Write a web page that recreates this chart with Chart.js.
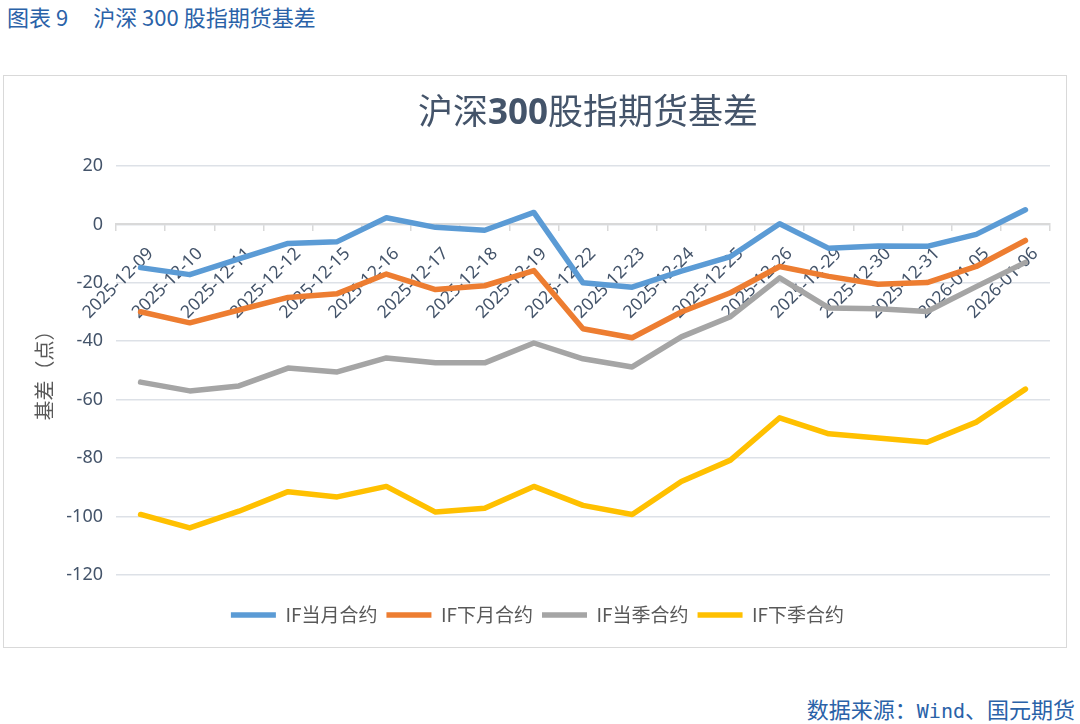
<!DOCTYPE html>
<html>
<head>
<meta charset="utf-8">
<script src="https://cdn.jsdelivr.net/npm/chart.js@4.4.1/dist/chart.umd.min.js"></script>
<style>
  body { margin: 0; background: #fff; width: 1080px; height: 724px; position: relative; overflow: hidden; }
  #header { position: absolute; left: 7px; top: 2px; font: 22px/28px "Noto Sans CJK SC", sans-serif; color: #2a62a8; white-space: nowrap; }
  #footer { position: absolute; right: 5px; top: 694px; font: 22px/28px "Noto Sans CJK SC", sans-serif; color: #2a62a8; white-space: nowrap; }
  #footer .mono { font-family: "DejaVu Sans Mono", monospace; font-size: 20px; }
  #box { position: absolute; left: 3px; top: 75px; width: 1064px; height: 573px; outline: 1.5px solid #d9d9d9; outline-offset: -1.5px; }
  #title { position: absolute; left: 0; top: 89px; width: 1176px; text-align: center; font: 35px/40px "Noto Sans CJK SC", sans-serif; color: #44546a; white-space: nowrap; }
  #title b { font-family: "Noto Sans", sans-serif; font-weight: 700; }
</style>
</head>
<body>
<div id="header"><span>图表 9</span><span style="margin-left:25px">沪深 300 股指期货基差</span></div>
<div id="box"><canvas id="basisChart"></canvas></div>
<div id="title">沪深<b>300</b>股指期货基差</div>
<div id="footer">数据来源：<span class="mono">Wind</span>、国元期货</div>

<script>
// --- Data ---
const dates = [
  "2025-12-09", "2025-12-10", "2025-12-11", "2025-12-12", "2025-12-15",
  "2025-12-16", "2025-12-17", "2025-12-18", "2025-12-19", "2025-12-22",
  "2025-12-23", "2025-12-24", "2025-12-25", "2025-12-26", "2025-12-29",
  "2025-12-30", "2025-12-31", "2026-01-05", "2026-01-06"
];
const ifCurrentMonth = [-14.8, -17.2, -11.8, -6.5, -5.9, 2.3, -1.0, -2.0, 4.1, -20.0, -21.5, -16.0, -11.0, 0.2, -8.2, -7.4, -7.5, -3.4, 5.0];
const ifNextMonth = [-29.9, -33.7, -29.3, -25.0, -23.7, -17.0, -22.3, -21.0, -15.8, -35.7, -38.8, -30.0, -23.4, -14.4, -17.8, -20.5, -19.9, -14.4, -5.5];
const ifCurrentQuarter = [-54.0, -57.0, -55.3, -49.2, -50.5, -45.7, -47.4, -47.4, -40.6, -46.0, -48.8, -38.5, -31.6, -18.3, -28.6, -28.9, -29.8, -21.3, -13.0];
const ifNextQuarter = [-99.3, -103.9, -98.2, -91.5, -93.3, -89.7, -98.5, -97.2, -89.7, -96.2, -99.3, -88.0, -80.7, -66.2, -71.7, -73.1, -74.6, -67.7, -56.4];

const seriesNames = ["IF当月合约", "IF下月合约", "IF当季合约", "IF下季合约"];
const seriesColors = ["#5b9bd5", "#ed7d31", "#a5a5a5", "#ffc000"];
const yMin = -120, yMax = 20, yStep = 20;

// --- Chart.js setup ---
const ctx = document.getElementById("basisChart").getContext("2d");

function makeDataset(i, values) {
  return {
    label: seriesNames[i],
    data: values,
    borderColor: seriesColors[i],
    backgroundColor: seriesColors[i],
    borderWidth: 5.5,
    borderCapStyle: "round",
    borderJoinStyle: "round",
    pointRadius: 0,
    pointHoverRadius: 0,
    tension: 0,
    fill: false
  };
}

const chart = new Chart(ctx, {
  type: "line",
  data: {
    labels: dates,
    datasets: [
      makeDataset(0, ifCurrentMonth),
      makeDataset(1, ifNextMonth),
      makeDataset(2, ifCurrentQuarter),
      makeDataset(3, ifNextQuarter)
    ]
  },
  options: {
    responsive: true,
    maintainAspectRatio: false,
    animation: false,
    layout: { padding: { top: 91, right: 0, bottom: 13.5, left: 5 } },
    plugins: {
      title: { display: false },
      tooltip: { enabled: false },
      legend: {
        position: "bottom",
        // empty title only keeps a gap between plot and legend
        title: { display: true, text: "", font: { size: 18 }, padding: 0 },
        labels: {
          usePointStyle: true,
          pointStyle: "line",
          pointStyleWidth: 45,
          color: "#595959",
          font: { family: "'Noto Sans CJK SC', sans-serif", size: 19 },
          padding: 9
        }
      }
    },
    scales: {
      x: {
        type: "category",
        position: { y: 0 },   // axis crosses at 0 like the Excel original
        offset: true,
        grid: {
          offset: true,
          drawOnChartArea: false,
          drawTicks: true,
          tickLength: 6,
          color: "#d9d9d9",
          lineWidth: 1.5
        },
        border: { display: true, color: "#d9d9d9", width: 2 },
        ticks: {
          autoSkip: false,
          minRotation: 45,
          maxRotation: 45,
          padding: 13,
          labelOffset: 10,
          color: "#44546a",
          font: { family: "'Noto Sans', sans-serif", size: 17.5 }
        }
      },
      y: {
        min: yMin,
        max: yMax,
        ticks: {
          stepSize: yStep,
          padding: 13,
          color: "#44546a",
          font: { family: "'Noto Sans', sans-serif", size: 18 }
        },
        grid: { color: "#dde1e7", lineWidth: 1.5, drawTicks: false },
        border: { display: false },
        title: {
          display: true,
          text: "基差（点）",
          color: "#595959",
          font: { family: "'Noto Sans CJK SC', sans-serif", size: 20 },
          padding: { top: 24, bottom: 0 }
        },
        afterFit: (scale) => { scale.width = 108; }
      },
      // invisible right-hand spacer so the legend centres on the whole box
      ySpacer: {
        position: "right",
        grid: { display: false },
        border: { display: false },
        ticks: { display: false },
        afterFit: (scale) => { scale.width = 17; }
      }
    }
  }
});
</script>
</body>
</html>
